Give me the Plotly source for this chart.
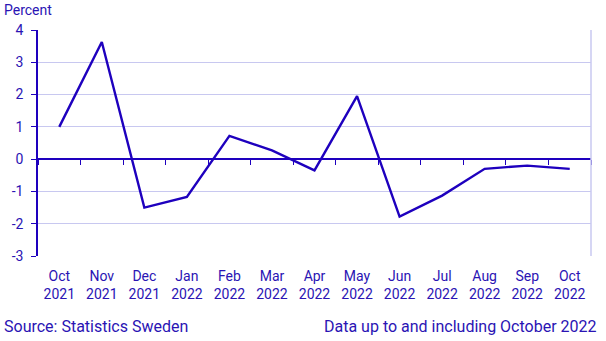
import plotly.graph_objects as go

months = ["Oct", "Nov", "Dec", "Jan", "Feb", "Mar", "Apr",
          "May", "Jun", "Jul", "Aug", "Sep", "Oct"]
years = ["2021", "2021", "2021", "2022", "2022", "2022", "2022",
         "2022", "2022", "2022", "2022", "2022", "2022"]
values = [1.0, 3.63, -1.5, -1.17, 0.72, 0.27, -0.35,
          1.95, -1.78, -1.13, -0.30, -0.20, -0.30]

y_ticks = [-3, -2, -1, 0, 1, 2, 3, 4]
y_tick_labels = ["-3", "-2", "-1", "0", "1", "2", "3", "4"]

categories = [f"{m}<br>{y}" for m, y in zip(months, years)]

BLUE = "#1e00be"
TEXT = "#2a14b4"
GRID = "#c8c8f0"
FONT = "Roboto"

y_min, y_max = -3, 4
x_range = [-0.5, len(categories) - 0.5]

fig = go.Figure()

fig.add_trace(go.Scatter(
    x=categories, y=values, mode="lines",
    line=dict(color=BLUE, width=2.4),
    hoverinfo="x+y", showlegend=False,
))
# invisible copy that carries the zero-line axis with its boundary ticks
fig.add_trace(go.Scatter(
    x=categories, y=values, mode="lines", xaxis="x2",
    line=dict(color="rgba(0,0,0,0)", width=0),
    hoverinfo="skip", showlegend=False,
))

zero_pos = (0 - y_min) / (y_max - y_min)

fig.update_layout(
    width=606, height=341,
    margin=dict(l=38, r=15, t=30, b=85),
    paper_bgcolor="white", plot_bgcolor="white",
    font=dict(family=FONT, size=14, color=TEXT),
    xaxis=dict(
        type="category", range=x_range, showgrid=False, showline=False,
        ticks="", zeroline=False, ticklabelstandoff=10,
        tickfont=dict(size=14, color=TEXT),
    ),
    xaxis2=dict(
        type="category", overlaying="x", anchor="free", position=zero_pos,
        range=x_range, showgrid=False, showline=True, linecolor=BLUE,
        linewidth=1.5, ticks="outside", tickson="boundaries", ticklen=5,
        tickcolor=BLUE, tickwidth=1.3, showticklabels=False,
    ),
    yaxis=dict(
        range=[y_min, y_max], tickmode="array", tickvals=y_ticks,
        ticktext=y_tick_labels,
        showgrid=True, gridcolor=GRID, gridwidth=1,
        zeroline=False, showline=True, linecolor=BLUE, linewidth=1.5,
        ticks="outside", ticklen=5, tickcolor=BLUE, tickwidth=1.3,
        ticklabelstandoff=5, tickfont=dict(size=14, color=TEXT),
    ),
    shapes=[dict(
        type="line", xref="x domain", yref="y domain",
        x0=1, x1=1, y0=0, y1=1, line=dict(color=GRID, width=1.5),
    )],
    annotations=[
        dict(text="Percent", xref="paper", yref="paper", x=-36/553, y=1,
             xanchor="left", yanchor="bottom", yshift=10, showarrow=False,
             font=dict(size=14, color=TEXT)),
        dict(text="Source: Statistics Sweden", xref="paper", yref="paper",
             x=-36/553, y=0, xanchor="left", yanchor="middle", yshift=-70,
             showarrow=False, font=dict(size=16, color=TEXT)),
        dict(text="Data up to and including October 2022", xref="paper",
             yref="paper", x=1 + 8/553, y=0, xanchor="right",
             yanchor="middle", yshift=-70, showarrow=False,
             font=dict(size=16, color=TEXT)),
    ],
)

fig.write_html("out.html")
